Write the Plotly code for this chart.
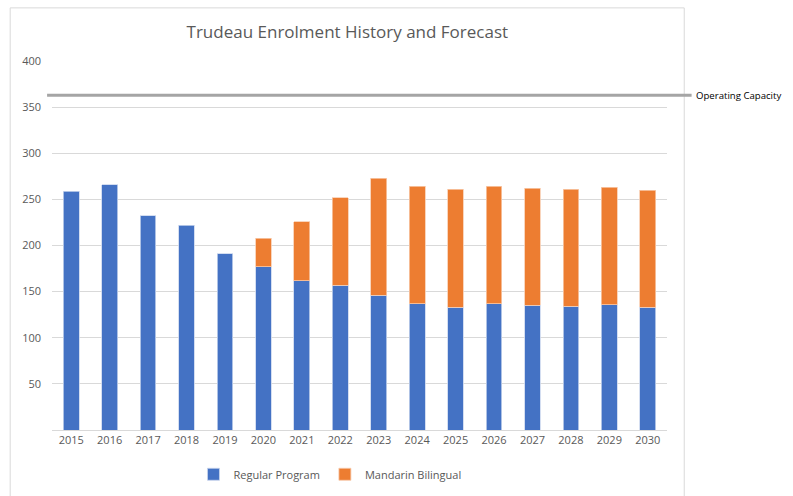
"""Trudeau enrolment history and forecast, stacked by program."""

import plotly.graph_objects as go

years = [str(y) for y in range(2015, 2031)]
regular_program = [259, 266, 232, 222, 191, 177, 162, 157, 146, 137, 133, 137, 135, 134, 136, 133]
mandarin_bilingual = [None, None, None, None, None, 31, 64, 95, 127, 127, 128, 127, 127, 127, 127, 127]
operating_capacity = 363
y_ticks = [50, 100, 150, 200, 250, 300, 350, 400]

FONT = "Open Sans, Calibri, sans-serif"
GREY_TEXT = "#595959"

fig = go.Figure()
fig.add_trace(go.Bar(
    x=years,
    y=regular_program,
    name="Regular Program",
    marker=dict(color="#4472c4", line=dict(color="#c9d6ee", width=0.8)),
))
fig.add_trace(go.Bar(
    x=years,
    y=mandarin_bilingual,
    name="Mandarin Bilingual",
    marker=dict(color="#ed7d31", line=dict(color="#f8cbad", width=0.8)),
))

# capacity line runs a little past the plot on both sides
fig.add_shape(
    type="line", xref="paper", yref="y",
    x0=-0.008, x1=1.04, y0=operating_capacity, y1=operating_capacity,
    line=dict(color="#a5a5a5", width=3),
)
fig.add_annotation(
    xref="paper", yref="y", x=1.044, y=operating_capacity,
    text="Operating Capacity", showarrow=False, xanchor="left",
    font=dict(family=FONT, size=9.6, color="#000000"),
)

# chart area border
fig.add_shape(
    type="rect", xref="paper", yref="paper",
    x0=-0.068, x1=1.028, y0=-0.185, y1=1.144,
    line=dict(color="#d9d9d9", width=1), layer="below",
)

fig.update_layout(
    width=793,
    height=496,
    barmode="stack",
    bargap=0.59,
    plot_bgcolor="white",
    paper_bgcolor="white",
    margin=dict(l=52, r=126, t=61, b=66, autoexpand=False),
    title=dict(
        text="Trudeau Enrolment History and Forecast",
        x=0.438, xanchor="center", y=0.935, yanchor="middle",
        font=dict(family=FONT, size=17, color=GREY_TEXT),
    ),
    font=dict(family=FONT, size=11, color=GREY_TEXT),
    xaxis=dict(
        showgrid=False, automargin=False,
        showline=True, linecolor="#d9d9d9", linewidth=1,
        ticks="", tickfont=dict(size=11, color=GREY_TEXT),
    ),
    yaxis=dict(
        range=[0, 400], automargin=False,
        tickvals=y_ticks,
        showgrid=True, gridcolor="#d9d9d9", gridwidth=1,
        zeroline=False, showline=False,
        ticks="", ticklabelstandoff=10,
        tickfont=dict(size=11, color=GREY_TEXT),
    ),
    legend=dict(
        orientation="h", x=0.452, xanchor="center", y=-0.12, yanchor="middle",
        font=dict(size=11, color=GREY_TEXT),
        traceorder="normal",
    ),
    showlegend=True,
)

fig.write_html(
    "out.html",
    config={"displayModeBar": False},
    post_script="document.body.style.margin='0';",
)
